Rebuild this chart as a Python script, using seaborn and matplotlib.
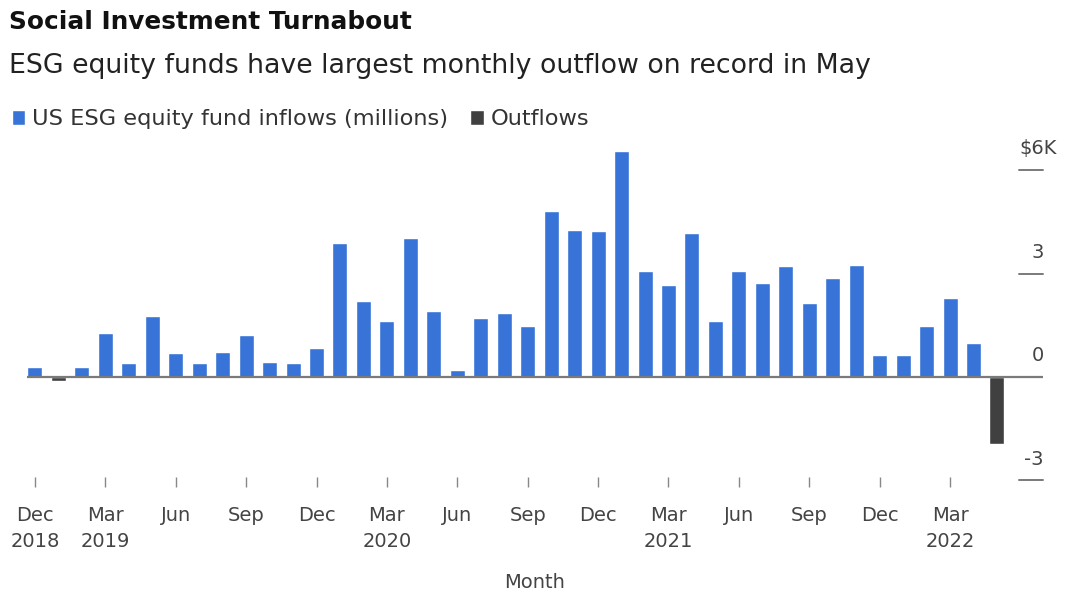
import numpy as np
import pandas as pd
import matplotlib
matplotlib.use("Agg")
import matplotlib.pyplot as plt
import matplotlib.transforms as mtransforms
import seaborn as sns

# ---- data ----
months = pd.date_range("2018-12-01", "2022-05-01", freq="MS").strftime("%b %Y").tolist()
flows = [0.29, -0.12, 0.29, 1.28, 0.41, 1.76, 0.70, 0.41, 0.74, 1.23, 0.45, 0.41,
         0.84, 3.89, 2.20, 1.62, 4.03, 1.91, 0.21, 1.71, 1.86, 1.47, 4.81, 4.28,
         4.23, 6.55, 3.07, 2.68, 4.18, 1.62, 3.07, 2.73, 3.21, 2.15, 2.87, 3.26,
         0.65, 0.65, 1.47, 2.29, 0.99, -1.95]
series_names = ["US ESG equity fund inflows (millions)", "Outflows"]
xtick_labels = ["Dec\n2018", "Mar\n2019", "Jun", "Sep", "Dec", "Mar\n2020", "Jun",
                "Sep", "Dec", "Mar\n2021", "Jun", "Sep", "Dec", "Mar\n2022"]
ytick_values = [6, 3, 0, -3]
ytick_labels = ["$6K", "3", "0", "-3"]

BLUE = "#3874D8"
DARK = "#404040"

df = pd.DataFrame({"month": months, "value": flows})
df["series"] = np.where(df["value"] >= 0, series_names[0], series_names[1])

sns.set_style("white")
plt.rcParams["font.family"] = ["DejaVu Sans"]

fig = plt.figure(figsize=(10.66, 5.92), dpi=100)
ax = fig.add_axes([0.0253, 0.1944, 0.9531, 0.5703])

sns.barplot(data=df, x="month", y="value", hue="series", order=months,
            hue_order=series_names, palette=[BLUE, DARK], dodge=False,
            width=0.64, saturation=1, ax=ax)

ax.set_xlim(-0.34, 42.96)
ax.set_ylim(-2.9, 6.9)
for s in ax.spines.values():
    s.set_visible(False)

ax.axhline(0, color="#7a7a7a", lw=1.6, zorder=3)

# right-side y ticks and labels
ax.set_yticks([])
ax.set_ylabel("")
trans = mtransforms.blended_transform_factory(ax.transAxes, ax.transData)
for v, lab in zip(ytick_values, ytick_labels):
    if v != 0:
        ax.plot([0.9765, 1.0], [v, v], transform=trans, color="#7a7a7a",
                lw=1.4, clip_on=False)
    if lab.startswith("$"):
        ax.text(0.9765, v + 0.62, lab, transform=trans, ha="left", va="center",
                fontsize=14, color="#444444")
    else:
        ax.text(1.001, v + 0.62, lab, transform=trans, ha="right", va="center",
                fontsize=14, color="#444444")

ax.set_xticks(list(range(0, 42, 3)))
ax.set_xticklabels(xtick_labels, fontsize=14, color="#444444", linespacing=1.45)
ax.tick_params(axis="x", bottom=True, length=7, width=1, color="#888888", pad=14)
ax.set_xlabel("Month", fontsize=14, color="#444444", labelpad=16)

sns.move_legend(ax, loc="upper left", bbox_to_anchor=(-0.024, 1.115), ncol=2,
                frameon=False, title=None, fontsize=16.2, handlelength=0.6,
                handleheight=0.6, handletextpad=0.3, columnspacing=1.0,
                borderaxespad=0, labelcolor="#333333")

fig.text(0.008, 0.962, "Social Investment Turnabout", fontsize=17.8,
         fontweight="bold", color="#111111", ha="left", va="center")
fig.text(0.008, 0.888, "ESG equity funds have largest monthly outflow on record in May",
         fontsize=19.3, color="#222222", ha="left", va="center")

fig.savefig("out.png", dpi=100)
